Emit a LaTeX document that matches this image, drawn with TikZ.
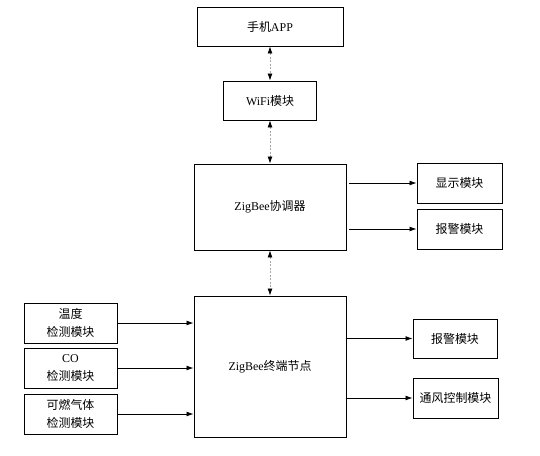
\documentclass[tikz,border=0pt]{standalone}
\usepackage{fontspec}
\setmainfont{Liberation Serif}
\newfontfamily\cjk{Noto Sans CJK SC}
\usetikzlibrary{arrows.meta,positioning}

\begin{document}
\begin{tikzpicture}[
    x=0.025cm, y=-0.025cm,
    box/.style={draw, line width=0.6pt, inner sep=0pt, align=center,
        font=\fontsize{8.5}{13}\selectfont},
    smallbox/.style={box, minimum width=2.125cm, minimum height=1cm},
    sensor/.style={box, minimum width=2.325cm, minimum height=1cm},
    link/.style={<->, >={Latex[black,length=5pt,width=3.5pt]}, gray!70,
        dash pattern=on 1.5pt off 1pt, line width=0.5pt},
    arrow/.style={->, >={Latex[length=5pt,width=3.5pt]}, line width=0.6pt}
]
\useasboundingbox (0,0) rectangle (540,455);

% upper chain
\node[box, minimum width=3.65cm, minimum height=0.975cm] (app) at (270,26.5) {{\cjk 手机}APP};
\node[box, minimum width=2.325cm, minimum height=0.975cm] (wifi) at (270,100.5) {WiFi{\cjk 模块}};
\node[box, minimum width=3.8cm, minimum height=2.15cm] (coord) at (270,207) {ZigBee{\cjk 协调器}};

\draw[link] (app) -- (wifi);
\draw[link] (wifi) -- (coord);

% coordinator outputs
\node[smallbox] (disp) at (459.5,183) {\cjk 显示模块};
\node[smallbox] (alarmA) at (459.5,229) {\cjk 报警模块};
\draw[arrow] ([xshift=2pt]coord.east |- disp.west) -- (disp.west);
\draw[arrow] ([xshift=2pt]coord.east |- alarmA.west) -- (alarmA.west);

% terminal node
\node[box, minimum width=3.8cm, minimum height=3.525cm] (term) at (270,366.5) {ZigBee{\cjk 终端节点}};
\draw[link] (coord) -- (term);

% sensors
\node[sensor] (temp) at (70.5,323) {{\cjk 温度}\\{\cjk 检测模块}};
\node[sensor] (co) at (70.5,368) {CO\\{\cjk 检测模块}};
\node[sensor] (gas) at (70.5,414) {{\cjk 可燃气体}\\{\cjk 检测模块}};
\foreach \s in {temp,co,gas}
    \draw[arrow] (\s.east) -- (term.west |- \s.east);

% terminal outputs
\node[smallbox, minimum width=2.1cm, minimum height=0.975cm] (alarmB) at (455,338.5) {\cjk 报警模块};
\node[smallbox] (vent) at (455.5,398) {\cjk 通风控制模块};
\draw[arrow] (term.east |- alarmB.west) -- (alarmB.west);
\draw[arrow] (term.east |- vent.west) -- (vent.west);

\end{tikzpicture}
\end{document}
